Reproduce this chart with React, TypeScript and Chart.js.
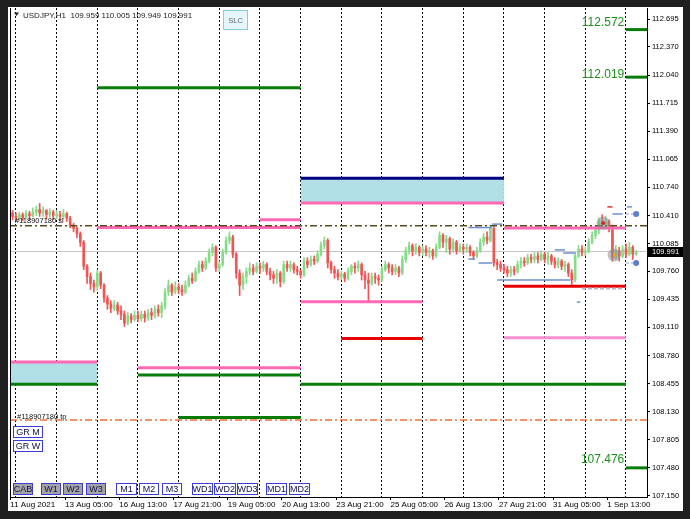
import React, { useEffect, useRef } from 'react';
import { Chart, registerables } from 'chart.js';

Chart.register(...registerables);

const CANVAS_W = 690;
const CANVAS_H = 519;

// ---- time axis: hours since 12 Aug 2021 00:00 (weekends removed) ----
const xMin = -3.5;
const xMax = 372.4;
const daySeparatorHours = [0, 24, 48, 72, 96, 120, 144, 168, 192, 216, 240, 264, 288, 312, 336, 360];
const dateLabelHours = [-3.3, 29, 61, 93, 125, 157, 189, 221, 253, 285, 317, 349];
const dateLabels = ['11 Aug 2021', '13 Aug 05:00', '16 Aug 13:00', '17 Aug 21:00', '19 Aug 05:00', '20 Aug 13:00', '23 Aug 21:00', '25 Aug 05:00', '26 Aug 13:00', '27 Aug 21:00', '31 Aug 05:00', '1 Sep 13:00'];

// ---- price axis ----
const yMin = 107.137;
const yMax = 112.823;
const priceTicks = [107.150, 107.480, 107.805, 108.130, 108.455, 108.780, 109.110, 109.435, 109.760, 110.085, 110.410, 110.740, 111.065, 111.390, 111.715, 112.040, 112.370, 112.695];

// ---- candles (2-hour bars, first one at hour -2) ----
const firstCandleHour = -2;
const candleStep = 2;
const firstOpen = 110.44;
const closes = [
  110.40,
  110.38, 110.42, 110.39, 110.43, 110.41, 110.45, 110.48, 110.44, 110.47, 110.42, 110.45, 110.41,
  110.42, 110.40, 110.43, 110.38, 110.30, 110.26, 110.20, 110.10, 109.82, 109.70, 109.62, 109.58,
  109.74, 109.60, 109.45, 109.38, 109.33, 109.37, 109.30, 109.26, 109.16, 109.24, 109.20, 109.25,
  109.21, 109.26, 109.22, 109.28, 109.25, 109.32, 109.28, 109.36, 109.52, 109.60, 109.52, 109.58,
  109.55, 109.52, 109.60, 109.68, 109.65, 109.76, 109.84, 109.80, 109.88, 109.98, 110.04, 109.80,
  109.84, 109.98, 110.12, 110.16, 109.96, 109.74, 109.60, 109.70, 109.76, 109.80, 109.76, 109.82,
  109.80, 109.84, 109.76, 109.72, 109.68, 109.74, 109.64, 109.84, 109.80, 109.84, 109.78, 109.76,
  109.72, 109.88, 109.84, 109.90, 109.88, 109.96, 110.06, 110.12, 109.86, 109.78, 109.74, 109.70,
  109.73, 109.68, 109.76, 109.82, 109.80, 109.84, 109.72, 109.66, 109.62, 109.70, 109.68, 109.66,
  109.78, 109.84, 109.80, 109.76, 109.80, 109.74, 109.90, 110.00, 110.06, 110.00, 110.04, 109.98,
  110.02, 109.98, 110.00, 109.94, 110.04, 110.18, 110.10, 110.14, 110.02, 110.10, 110.00, 110.04,
  110.02, 110.04, 109.98, 109.94, 110.00, 110.10, 110.16, 110.12, 110.26, 109.86, 109.84, 109.80,
  109.78, 109.74, 109.78, 109.76, 109.84, 109.88, 109.86, 109.92, 109.90, 109.94, 109.90, 109.96,
  109.90, 109.94, 109.88, 109.84, 109.88, 109.82, 109.84, 109.74, 109.66, 109.94, 110.02, 109.98,
  110.00, 110.10, 110.18, 110.24, 110.34, 110.30, 110.34, 110.28, 109.92, 110.00, 109.94, 110.02,
  109.96, 110.04, 109.959, 109.991,
];
const highs = [
  110.47,
  110.44, 110.45, 110.44, 110.47, 110.46, 110.50, 110.52, 110.55, 110.51, 110.48, 110.49, 110.47,
  110.47, 110.46, 110.48, 110.45, 110.40, 110.32, 110.28, 110.22, 110.12, 109.84, 109.74, 109.66,
  109.78, 109.76, 109.62, 109.48, 109.42, 109.42, 109.40, 109.36, 109.30, 109.28, 109.27, 109.30,
  109.30, 109.30, 109.30, 109.32, 109.33, 109.36, 109.37, 109.40, 109.56, 109.66, 109.62, 109.64,
  109.62, 109.60, 109.65, 109.72, 109.74, 109.80, 109.88, 109.88, 109.92, 110.02, 110.08, 110.06,
  109.88, 110.02, 110.16, 110.22, 110.18, 109.98, 109.78, 109.74, 109.80, 109.86, 109.84, 109.86,
  109.86, 109.88, 109.86, 109.80, 109.76, 109.78, 109.76, 109.88, 109.88, 109.88, 109.86, 109.82,
  109.78, 109.92, 109.92, 109.94, 109.94, 110.00, 110.10, 110.16, 110.14, 109.88, 109.82, 109.78,
  109.76, 109.75, 109.80, 109.84, 109.86, 109.88, 109.86, 109.76, 109.74, 109.74, 109.74, 109.72,
  109.82, 109.88, 109.86, 109.84, 109.84, 109.82, 109.94, 110.04, 110.10, 110.08, 110.08, 110.06,
  110.06, 110.06, 110.04, 110.02, 110.08, 110.22, 110.20, 110.18, 110.16, 110.14, 110.12, 110.08,
  110.08, 110.08, 110.06, 110.00, 110.04, 110.14, 110.20, 110.22, 110.30, 110.28, 109.90, 109.88,
  109.84, 109.82, 109.82, 109.82, 109.88, 109.92, 109.92, 109.96, 109.96, 109.98, 109.98, 110.00,
  109.98, 109.98, 109.96, 109.92, 109.92, 109.90, 109.88, 109.86, 109.78, 109.98, 110.06, 110.06,
  110.04, 110.14, 110.22, 110.28, 110.38, 110.42, 110.40, 110.36, 110.30, 110.06, 110.04, 110.06,
  110.08, 110.10, 110.06, 110.005,
];
const lows = [
  110.36,
  110.35, 110.35, 110.35, 110.37, 110.36, 110.39, 110.41, 110.40, 110.40, 110.37, 110.39, 110.36,
  110.37, 110.35, 110.37, 110.34, 110.27, 110.22, 110.15, 110.05, 109.78, 109.62, 109.55, 109.52,
  109.54, 109.56, 109.40, 109.32, 109.28, 109.30, 109.26, 109.20, 109.12, 109.14, 109.16, 109.18,
  109.18, 109.18, 109.17, 109.19, 109.20, 109.22, 109.24, 109.22, 109.32, 109.48, 109.48, 109.50,
  109.50, 109.48, 109.50, 109.58, 109.62, 109.64, 109.74, 109.76, 109.78, 109.86, 109.94, 109.76,
  109.76, 109.82, 109.96, 110.08, 109.92, 109.68, 109.48, 109.55, 109.62, 109.72, 109.72, 109.74,
  109.74, 109.76, 109.72, 109.66, 109.62, 109.62, 109.58, 109.62, 109.76, 109.76, 109.74, 109.72,
  109.68, 109.70, 109.80, 109.82, 109.84, 109.86, 109.94, 110.02, 109.80, 109.74, 109.68, 109.66,
  109.66, 109.64, 109.66, 109.72, 109.74, 109.76, 109.66, 109.56, 109.42, 109.60, 109.62, 109.60,
  109.64, 109.76, 109.74, 109.72, 109.72, 109.70, 109.72, 109.86, 109.96, 109.94, 109.96, 109.94,
  109.94, 109.94, 109.92, 109.90, 109.92, 110.02, 110.04, 109.98, 109.96, 109.98, 109.96, 109.98,
  109.96, 109.98, 109.94, 109.90, 109.92, 109.98, 110.06, 110.08, 110.10, 109.82, 109.78, 109.76,
  109.74, 109.70, 109.70, 109.72, 109.74, 109.80, 109.82, 109.84, 109.86, 109.86, 109.86, 109.88,
  109.86, 109.84, 109.84, 109.80, 109.80, 109.78, 109.76, 109.70, 109.60, 109.64, 109.92, 109.94,
  109.94, 109.98, 110.08, 110.14, 110.20, 110.26, 110.26, 110.22, 109.88, 109.90, 109.88, 109.92,
  109.92, 109.94, 109.90, 109.949,
];

// ---- horizontal levels: [price, startHour, endHour] ----
const greenLevels = [
  [111.897, 48, 168],
  [108.447, 168, 360],
  [108.447, xMin, 48],
  [108.555, 72, 168],
  [108.060, 96, 168],
  [112.572, 360, xMax],
  [112.019, 360, xMax],
  [107.476, 360, xMax],
];
const pinkLevels = [
  [110.272, 48, 168],
  [110.362, 144, 168],
  [110.556, 168, 288],
  [110.265, 288, 360],
  [109.407, 168, 240],
  [108.640, 72, 168],
  [108.706, xMin, 48],
];
const lightPinkLevels = [[108.990, 288, 360]];
const redLevels = [
  [109.588, 288, 360],
  [108.981, 192, 240],
];
const navyLevels = [[110.844, 168, 288]];
// zones: [top, bottom, startHour, endHour]
const zones = [
  [110.844, 110.556, 168, 288],
  [108.706, 108.447, xMin, 48],
];
// level captions: [text, textPrice, anchorHour]
const levelCaptions = [
  ['112.572', 112.612, 359],
  ['112.019', 112.009, 359],
  ['107.476', 107.532, 359],
];

const stopLoss = 110.292;
const takeProfit = 108.032;
const currentPrice = 109.991;
const title = 'USDJPY,H1  109.959 110.005 109.949 109.991';
const orderTicket = '#118907180';

// trade marks: [price, startHour, endHour]
const tradeSegments = [
  [110.27, 267, 281],
  [110.31, 281, 287],
  [109.904, 267, 271],
  [109.858, 273, 281],
  [109.66, 284, 327],
  [110.01, 318, 324],
  [109.974, 323, 330],
  [110.428, 352, 358],
  [110.51, 360.5, 363.5],
  [109.404, 331, 333],
];
const redMarks = [[110.51, 349, 352]];
const grayDashed = [[109.56, 334, 359]];
const pendingDots = [
  [110.428, 360, 366],
  [109.858, 360, 366],
];
const arrowCircles = [
  [346.5, 110.323],
  [353, 109.951],
];

// ---- buttons (chrome) ----
const bottomButtons = [
  ['CAB', 13, 20, true], ['W1', 41, 20, true], ['W2', 63, 20, true], ['W3', 86, 20, true],
  ['M1', 116, 21, false], ['M2', 139, 20, false], ['M3', 162, 20, false],
  ['WD1', 192, 21, false], ['WD2', 214, 22, false], ['WD3', 237, 21, false],
  ['MD1', 266, 21, false], ['MD2', 289, 21, false],
];
const sideButtons = [['GR M', 426], ['GR W', 440]];

const FONT = "'Liberation Sans', Arial, sans-serif";

export default function App() {
  const ref = useRef<HTMLCanvasElement>(null);

  useEffect(() => {
    const canvas = ref.current;
    if (!canvas) return;

    const opens = closes.map((c, i) => (i === 0 ? firstOpen : closes[i - 1]));
    const hours = closes.map((_, i) => firstCandleHour + i * candleStep);
    const UP = '#86dc86';
    const DOWN = '#f25454';
    const colors = closes.map((c, i) => (c >= opens[i] ? UP : DOWN));

    const wickData = hours.map((h, i) => ({
      x: h,
      y: [Math.min(lows[i], opens[i], closes[i]), Math.max(highs[i], opens[i], closes[i])],
    }));
    const bodyData = hours.map((h, i) => ({
      x: h,
      y: [Math.min(opens[i], closes[i]), Math.max(opens[i], closes[i])],
    }));

    const seg = (p: number, a: number, b: number, color: string, width: number, extra: any = {}) => ({
      type: 'line',
      data: [{ x: a, y: p }, { x: b, y: p }],
      borderColor: color,
      borderWidth: width,
      pointRadius: 0,
      fill: false,
      xAxisID: 'x',
      yAxisID: 'y',
      order: 5,
      ...extra,
    });

    const datasets: any[] = [];
    zones.forEach(([top, bottom, a, b]) =>
      datasets.push(seg(top, a, b, 'rgba(0,0,0,0)', 0, { fill: { value: bottom }, backgroundColor: '#b0e0e6', order: 60 }))
    );
    datasets.push(seg(currentPrice, xMin, xMax, '#c4c4c4', 1, { order: 50 }));
    datasets.push({
      type: 'bar',
      data: wickData,
      backgroundColor: colors,
      barThickness: 1,
      grouped: false,
      borderWidth: 0,
      borderSkipped: false,
      xAxisID: 'x',
      yAxisID: 'y',
      order: 41,
    });
    datasets.push({
      type: 'bar',
      data: bodyData,
      backgroundColor: colors,
      barThickness: 2,
      minBarLength: 1,
      grouped: false,
      borderWidth: 0,
      borderSkipped: false,
      xAxisID: 'x',
      yAxisID: 'y',
      order: 40,
    });
    navyLevels.forEach(([p, a, b]) => datasets.push(seg(p, a, b, '#000080', 3)));
    greenLevels.forEach(([p, a, b]) => datasets.push(seg(p, a, b, '#087c08', 3)));
    pinkLevels.forEach(([p, a, b]) => datasets.push(seg(p, a, b, '#ff69b4', 3)));
    lightPinkLevels.forEach(([p, a, b]) => datasets.push(seg(p, a, b, '#f590d2', 3)));
    redLevels.forEach(([p, a, b]) => datasets.push(seg(p, a, b, '#e80000', 3)));
    datasets.push(seg(stopLoss, xMin, xMax, '#5c4a1c', 1.5, { borderDash: [7, 3, 2, 3], order: 4 }));
    datasets.push(seg(takeProfit, xMin, xMax, '#f07038', 1.5, { borderDash: [7, 3, 2, 3], order: 4 }));
    tradeSegments.forEach(([p, a, b]) => datasets.push(seg(p, a, b, '#6d8fcf', 1.5, { order: 3 })));
    redMarks.forEach(([p, a, b]) => datasets.push(seg(p, a, b, '#e03030', 1.5, { order: 3 })));
    grayDashed.forEach(([p, a, b]) => datasets.push(seg(p, a, b, '#b4b4cc', 2, { borderDash: [4, 2], order: 3 })));
    pendingDots.forEach(([p, a, b]) =>
      datasets.push(seg(p, a, b, '#8aa2d4', 1, {
        borderDash: [3, 2],
        pointRadius: [0, 3],
        pointBackgroundColor: '#5d80c8',
        pointBorderWidth: 0,
        order: 2,
      }))
    );
    datasets.push({
      type: 'line',
      data: arrowCircles.map(([h, p]) => ({ x: h, y: p })),
      showLine: false,
      pointRadius: 6.5,
      pointBackgroundColor: 'rgba(140,140,140,0.55)',
      pointBorderWidth: 0,
      xAxisID: 'x',
      yAxisID: 'y',
      order: 1,
    });

    const chromePlugin = {
      id: 'chrome',
      beforeDraw(chart: any) {
        const ctx = chart.ctx;
        ctx.save();
        ctx.fillStyle = '#1f1f1f';
        ctx.fillRect(0, 0, CANVAS_W, CANVAS_H);
        ctx.fillStyle = '#ffffff';
        ctx.fillRect(8, 7, 675, 504);
        ctx.restore();
      },
      afterDraw(chart: any) {
        const { ctx, chartArea: a, scales } = chart;
        const X = scales.x;
        const Y = scales.y;
        ctx.save();
        // left frame
        ctx.strokeStyle = '#000';
        ctx.lineWidth = 1;
        ctx.beginPath();
        ctx.moveTo(Math.round(a.left) + 0.5, a.top);
        ctx.lineTo(Math.round(a.left) + 0.5, a.bottom);
        ctx.stroke();

        // title
        ctx.fillStyle = '#222';
        ctx.beginPath();
        ctx.moveTo(14, 12.5);
        ctx.lineTo(19, 12.5);
        ctx.lineTo(16.5, 16);
        ctx.closePath();
        ctx.fill();
        ctx.font = `8px ${FONT}`;
        ctx.textAlign = 'left';
        ctx.textBaseline = 'alphabetic';
        ctx.fillText(title, 23, 18);

        // arrow markers inside circles
        ctx.fillStyle = '#e02020';
        const c1x = X.getPixelForValue(arrowCircles[0][0]);
        const c1y = Y.getPixelForValue(arrowCircles[0][1]);
        ctx.fillRect(c1x - 2, c1y - 0.5, 4, 1.5);
        ctx.fillRect(c1x - 0.5, c1y - 2, 1.5, 4);
        ctx.fillStyle = '#f0a020';
        const c2x = X.getPixelForValue(arrowCircles[1][0]);
        const c2y = Y.getPixelForValue(arrowCircles[1][1]);
        ctx.fillRect(c2x - 1, c2y - 2, 2, 4);

        // level captions
        ctx.font = `12px ${FONT}`;
        ctx.fillStyle = '#1f8f1f';
        ctx.textAlign = 'right';
        levelCaptions.forEach(([t, p, h]) => {
          ctx.fillText(t as string, X.getPixelForValue(h as number), Y.getPixelForValue(p as number));
        });

        // order labels
        ctx.font = `7.5px ${FONT}`;
        ctx.fillStyle = '#111';
        ctx.textAlign = 'left';
        ctx.fillText(`${orderTicket} sl`, 15, Y.getPixelForValue(stopLoss) - 3);
        ctx.fillText(`${orderTicket} tp`, 17, Y.getPixelForValue(takeProfit) - 1.5);

        // current price box
        const py = Y.getPixelForValue(currentPrice);
        ctx.fillStyle = '#000';
        ctx.fillRect(a.right + 1, Math.round(py) - 5, 35, 10);
        ctx.fillStyle = '#fff';
        ctx.font = `7.5px ${FONT}`;
        ctx.textBaseline = 'middle';
        ctx.fillText(currentPrice.toFixed(3), a.right + 5, py + 0.5);

        // buttons
        const drawButton = (label: string, x: number, y: number, w: number, h: number, fill: string, border: string, color: string, size: number) => {
          ctx.fillStyle = fill;
          ctx.fillRect(x, y, w, h);
          ctx.strokeStyle = border;
          ctx.lineWidth = 1;
          ctx.strokeRect(x + 0.5, y + 0.5, w - 1, h - 1);
          ctx.fillStyle = color;
          ctx.font = `${size}px ${FONT}`;
          ctx.textAlign = 'center';
          ctx.textBaseline = 'middle';
          ctx.fillText(label, x + w / 2, y + h / 2 + 0.5);
        };
        bottomButtons.forEach(([t, x, w, gray]) =>
          drawButton(t as string, x as number, 483, w as number, 12, gray ? '#a4a4a4' : '#ffffff', '#3b3bd6', '#10104a', 9)
        );
        sideButtons.forEach(([t, y]) => drawButton(t as string, 13, y as number, 30, 12, '#ffffff', '#3b3bd6', '#10104a', 9));
        drawButton('SLC', 223, 10, 25, 20, '#e6f6fa', '#86cde0', '#5a6a80', 7.5);
        ctx.restore();
      },
    };

    const chart = new Chart(canvas, {
      type: 'bar',
      data: { datasets },
      options: {
        animation: false,
        responsive: false,
        devicePixelRatio: 1,
        events: [],
        layout: { padding: { left: 10, top: 8, right: 0, bottom: 0 } },
        plugins: {
          legend: { display: false },
          tooltip: { enabled: false },
          filler: { drawTime: 'beforeDatasetsDraw' },
        },
        scales: {
          x: {
            type: 'linear',
            position: 'bottom',
            min: xMin,
            max: xMax,
            offset: false,
            afterBuildTicks: (s: any) => {
              s.ticks = daySeparatorHours.map((v) => ({ value: v }));
            },
            afterFit: (s: any) => {
              s.height = 0;
            },
            ticks: { display: false },
            grid: { display: true, drawOnChartArea: true, drawTicks: false, color: '#000', lineWidth: 1, offset: false },
            border: { display: false, dash: [2, 2] },
          },
          x2: {
            type: 'linear',
            position: 'bottom',
            min: xMin,
            max: xMax,
            offset: false,
            afterBuildTicks: (s: any) => {
              s.ticks = dateLabelHours.map((v) => ({ value: v }));
            },
            afterFit: (s: any) => {
              s.height = 22;
            },
            ticks: {
              autoSkip: false,
              maxRotation: 0,
              minRotation: 0,
              align: 'start',
              padding: 0,
              color: '#000',
              font: { family: FONT, size: 8 },
              callback: (_v: any, i: number) => dateLabels[i],
            },
            grid: { display: true, drawOnChartArea: false, drawTicks: true, tickLength: 3, color: '#000', offset: false },
            border: { display: true, color: '#000', width: 1 },
          },
          y: {
            type: 'linear',
            position: 'right',
            min: yMin,
            max: yMax,
            afterBuildTicks: (s: any) => {
              s.ticks = priceTicks.map((v) => ({ value: v }));
            },
            afterFit: (s: any) => {
              s.width = 43;
            },
            ticks: {
              autoSkip: false,
              padding: 2,
              color: '#000',
              font: { family: FONT, size: 7.5 },
              callback: (v: any) => Number(v).toFixed(3),
            },
            grid: { display: true, drawOnChartArea: false, drawTicks: true, tickLength: 3, color: '#000' },
            border: { display: true, color: '#000', width: 1 },
          },
        },
      } as any,
      plugins: [chromePlugin],
    } as any);

    return () => chart.destroy();
  }, []);

  return (
    <div style={{ position: 'absolute', left: 0, top: 0, width: CANVAS_W, height: CANVAS_H, background: '#1f1f1f' }}>
      <canvas ref={ref} width={CANVAS_W} height={CANVAS_H} style={{ display: 'block' }} />
    </div>
  );
}
